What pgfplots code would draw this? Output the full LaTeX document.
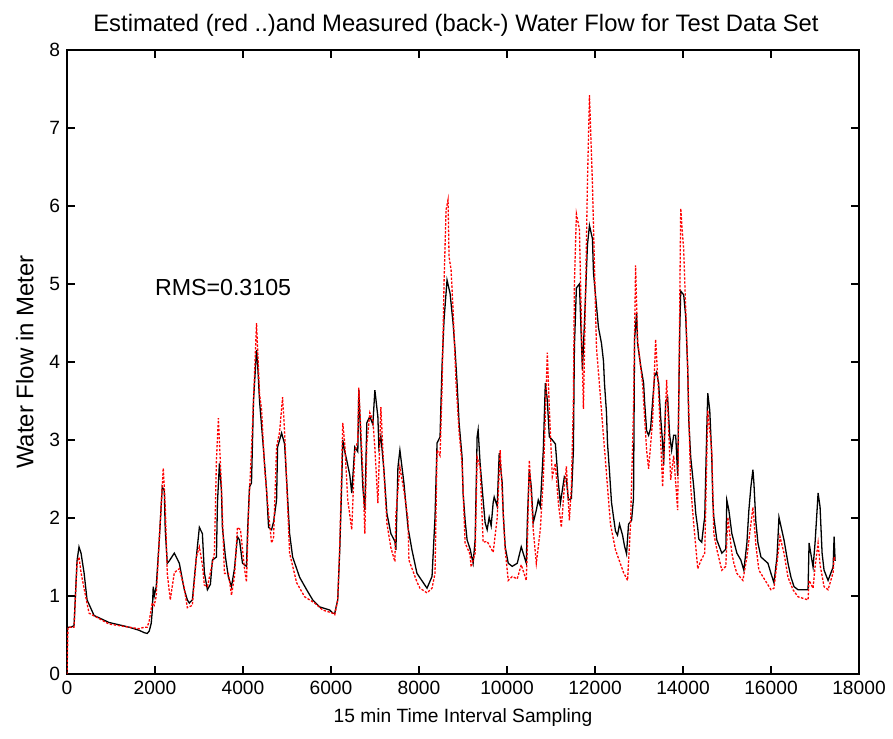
\documentclass[border=0pt]{standalone}
\usepackage{fontspec}
\setmainfont{Liberation Sans}
\usepackage{pgfplots}
\pgfplotsset{compat=1.18}

% measured water flow (black, solid)
\pgfplotstableread{
x y
0 0.60
91 0.60
160 0.62
228 1.45
273 1.63
319 1.55
387 1.30
456 0.95
615 0.75
957 0.66
1413 0.60
1641 0.56
1755 0.53
1823 0.52
1869 0.55
1914 0.65
1937 0.80
1960 1.12
1983 1.00
2028 1.12
2097 1.72
2165 2.40
2211 2.35
2233 1.85
2279 1.42
2325 1.45
2439 1.55
2553 1.42
2666 1.08
2735 0.95
2780 0.91
2849 0.95
2940 1.50
3008 1.88
3077 1.80
3122 1.30
3191 1.08
3259 1.15
3305 1.46
3396 1.50
3419 2.19
3464 2.70
3510 2.35
3532 1.88
3601 1.50
3669 1.24
3738 1.12
3806 1.35
3874 1.76
3920 1.72
3988 1.42
4079 1.38
4102 1.80
4148 2.40
4193 2.45
4239 3.51
4307 4.15
4330 4.00
4376 3.50
4467 2.87
4535 2.36
4581 1.88
4649 1.85
4695 1.95
4763 2.23
4786 2.91
4877 3.09
4945 2.95
4991 2.49
5059 1.80
5128 1.50
5287 1.24
5447 1.08
5584 0.95
5743 0.86
5971 0.82
6039 0.78
6085 0.78
6153 0.95
6199 1.59
6244 2.45
6267 3.00
6313 2.85
6358 2.74
6427 2.55
6472 2.32
6541 2.91
6609 2.85
6632 3.64
6723 2.40
6769 2.10
6814 3.22
6883 3.30
6951 3.20
6997 3.64
7065 3.30
7088 2.91
7133 3.05
7202 2.62
7270 2.06
7361 1.80
7452 1.70
7475 1.59
7521 2.65
7566 2.87
7657 2.45
7749 1.88
7840 1.59
7954 1.29
8182 1.10
8296 1.25
8364 2.01
8410 2.96
8478 3.04
8523 3.94
8569 4.54
8637 5.05
8706 4.88
8774 4.50
8820 4.15
8865 3.73
8911 3.22
8979 2.78
9002 2.32
9048 1.97
9093 1.72
9162 1.60
9230 1.42
9276 1.72
9321 3.04
9344 3.13
9389 2.70
9458 2.23
9503 1.94
9549 1.85
9595 2.01
9640 1.90
9686 2.20
9709 2.27
9777 2.15
9823 2.83
9891 2.45
9914 2.06
9959 1.63
10028 1.42
10119 1.38
10233 1.42
10324 1.63
10438 1.42
10461 1.94
10506 2.62
10552 2.40
10597 1.94
10666 2.10
10711 2.23
10757 2.15
10825 2.87
10871 3.73
10916 3.51
10962 3.04
11030 3.00
11099 2.95
11167 2.45
11213 2.19
11304 2.53
11349 2.50
11395 2.23
11463 2.25
11509 2.87
11532 4.20
11577 4.95
11646 5.00
11714 3.90
11760 4.50
11828 5.50
11874 5.75
11942 5.58
11965 5.15
12011 4.86
12079 4.44
12147 4.24
12193 4.01
12215 3.73
12261 3.35
12284 2.96
12330 2.59
12375 2.20
12421 2.01
12466 1.83
12512 1.78
12557 1.92
12626 1.78
12671 1.64
12717 1.54
12762 1.92
12831 1.97
12876 2.26
12899 4.29
12945 4.63
12967 4.24
13036 3.96
13104 3.73
13127 3.49
13173 3.12
13218 3.06
13264 3.15
13309 3.49
13355 3.82
13400 3.87
13446 3.73
13492 3.29
13537 2.96
13560 2.68
13606 3.49
13651 3.54
13697 3.06
13742 2.87
13788 3.06
13834 3.06
13879 2.54
13925 4.38
13948 4.91
14016 4.86
14062 4.58
14107 3.91
14130 3.26
14175 2.78
14244 2.40
14289 2.06
14335 1.87
14358 1.73
14426 1.69
14472 1.92
14494 2.01
14540 3.13
14563 3.60
14608 3.38
14654 2.78
14677 2.23
14700 2.01
14768 1.72
14882 1.55
14973 1.60
14996 2.23
15042 2.10
15110 1.80
15224 1.55
15315 1.46
15383 1.33
15452 1.68
15497 2.10
15543 2.40
15589 2.62
15611 2.45
15657 1.94
15703 1.68
15771 1.50
15930 1.42
15999 1.29
16067 1.17
16136 1.50
16181 2.01
16204 1.95
16295 1.72
16386 1.42
16454 1.24
16523 1.12
16614 1.08
16842 1.08
16865 1.68
16956 1.37
17001 1.68
17047 2.10
17070 2.32
17115 2.14
17161 1.55
17206 1.33
17297 1.20
17411 1.37
17434 1.76
17457 1.45
}\measured

% estimated water flow (red, dotted)
\pgfplotstableread{
x y
0 0.00
23 0.60
160 0.60
228 1.42
273 1.50
319 1.30
387 1.10
501 0.78
957 0.64
1413 0.60
1641 0.58
1755 0.60
1823 0.60
1869 0.68
1937 0.91
1983 0.88
2028 1.00
2097 1.72
2188 2.64
2233 2.15
2279 1.29
2347 0.95
2439 1.30
2553 1.35
2666 1.10
2735 0.85
2849 0.88
2940 1.50
3008 1.63
3077 1.40
3122 1.14
3191 1.12
3259 1.30
3350 1.55
3396 2.74
3441 3.28
3510 2.40
3578 1.29
3669 1.29
3738 1.01
3806 1.25
3874 1.88
3943 1.85
4034 1.35
4079 1.18
4125 2.06
4193 2.88
4239 3.51
4307 4.50
4376 3.59
4421 3.40
4490 2.65
4581 2.06
4649 1.68
4695 1.75
4763 2.91
4831 3.10
4900 3.55
4945 3.10
5059 1.55
5219 1.17
5401 0.99
5629 0.91
5811 0.82
6039 0.78
6085 0.76
6153 0.95
6199 1.64
6244 2.65
6267 3.22
6313 2.95
6381 2.23
6472 1.85
6541 2.85
6609 2.99
6632 3.67
6723 2.60
6769 1.80
6814 2.95
6883 3.35
6951 3.25
6997 2.90
7065 2.19
7133 3.42
7202 2.60
7270 1.93
7361 1.62
7452 1.44
7475 2.05
7566 2.65
7657 2.35
7749 1.99
7771 1.46
7954 1.18
8022 1.10
8182 1.04
8296 1.10
8364 1.29
8410 2.87
8478 2.80
8523 3.64
8569 5.01
8615 5.95
8660 6.08
8683 5.35
8729 5.18
8774 4.67
8842 3.73
8911 3.10
8979 2.69
9048 1.68
9162 1.53
9184 1.37
9276 1.55
9321 2.78
9389 2.65
9458 1.69
9549 1.70
9686 1.56
9777 2.00
9845 2.87
9914 2.05
9959 1.59
10028 1.20
10119 1.25
10233 1.22
10324 1.40
10438 1.20
10461 1.60
10506 2.74
10597 1.85
10666 1.42
10757 1.85
10825 2.50
10916 4.12
10962 3.40
11030 2.53
11099 2.70
11167 2.19
11235 1.88
11304 2.40
11349 2.66
11418 1.97
11463 2.40
11509 3.51
11532 5.00
11577 5.90
11646 5.70
11691 4.50
11737 3.40
11783 4.80
11828 6.30
11874 7.42
11942 6.28
12033 4.19
12193 3.05
12284 2.40
12352 1.92
12466 1.59
12649 1.30
12740 1.20
12808 1.92
12876 3.43
12922 5.24
12967 4.29
13081 3.72
13173 2.87
13218 2.63
13309 3.25
13378 4.29
13446 3.60
13537 2.40
13628 3.77
13720 2.49
13788 2.80
13879 2.10
13948 5.97
14016 5.43
14107 3.91
14175 2.40
14244 1.92
14335 1.35
14403 1.45
14494 1.55
14563 3.38
14654 2.86
14700 1.80
14768 1.60
14882 1.33
14973 1.38
15019 2.01
15110 1.55
15156 1.42
15224 1.29
15361 1.20
15452 1.50
15497 1.71
15589 2.14
15657 1.65
15725 1.33
15999 1.08
16067 1.10
16136 1.42
16204 1.76
16295 1.55
16386 1.24
16500 1.08
16614 0.99
16842 0.95
16865 1.20
16956 1.10
17001 1.37
17070 1.68
17115 1.40
17206 1.12
17297 1.08
17411 1.30
17434 1.50
17457 1.45
}\estimated

\begin{document}
\begin{tikzpicture}
\begin{axis}[
  name=ax,
  scale only axis, width=396pt, height=312pt,
  xmin=0, xmax=18000, ymin=0, ymax=8,
  xtick={0,2000,...,18000}, ytick={0,1,...,8},
  tick align=inside, xtick pos=both, ytick pos=both,
  major tick length=4pt,
  scaled x ticks=false,
  /pgf/number format/1000 sep={},
  /pgf/number format/assume math mode=true,
  font=\fontsize{9.6}{11}\selectfont,
  tick label style={font=\fontsize{9.6}{11}\selectfont},
  axis line style={line width=0.6pt},
  every tick/.style={line width=0.6pt, black},
  title={Estimated (red ..)and Measured (back-) Water Flow for Test Data Set},
  title style={font=\fontsize{11.9}{13}\selectfont, yshift=-3pt, xshift=-3.5pt},
  xlabel={15 min Time Interval Sampling},
  ylabel={Water Flow in Meter},
  ylabel style={font=\fontsize{12}{13}\selectfont, yshift=1pt},
]
\addplot[black, line width=0.65pt] table[x=x, y=y] {\measured};
\addplot[red, line width=0.65pt, dash pattern=on 1.2pt off 0.8pt] table[x=x, y=y] {\estimated};
\node[anchor=west, font=\fontsize{11.6}{13}\selectfont] at (axis cs:1840,4.96) {RMS=0.3105};
\end{axis}
\pgfresetboundingbox
\path ([xshift=-33.5pt,yshift=-32pt]ax.south west) rectangle ([xshift=17pt,yshift=25pt]ax.north east);
\end{tikzpicture}
\end{document}
